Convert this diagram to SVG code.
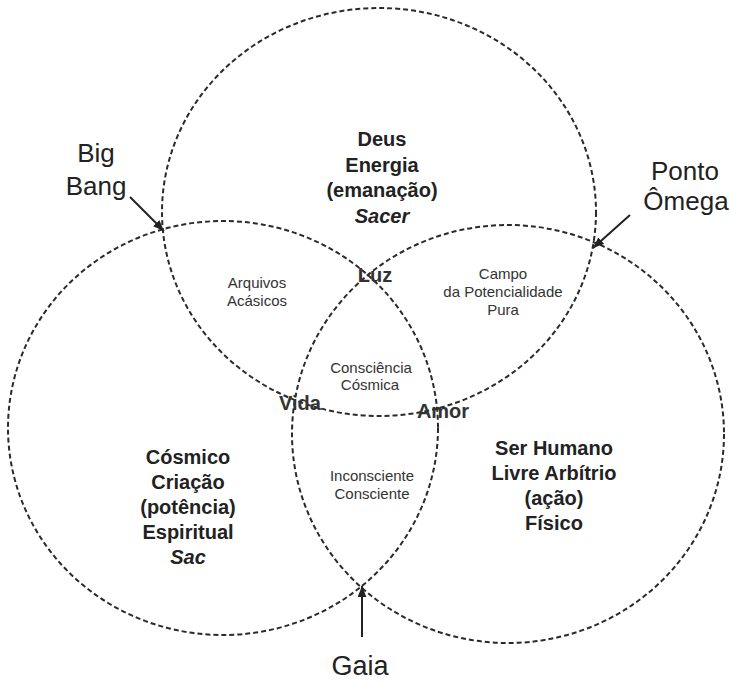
<svg xmlns="http://www.w3.org/2000/svg" width="730" height="683" viewBox="0 0 730 683">
<defs>
<style>
.ring{fill:none;stroke:#2a2a2a;stroke-width:2;stroke-dasharray:5 3}
.t{font-family:"Liberation Sans",Arial,sans-serif;text-anchor:middle;fill:#222}
.big{font-size:26px}
.main{font-size:20px;font-weight:bold}
.it{font-style:italic}
.small{font-size:15px;fill:#333}
.key{font-size:20px;font-weight:bold;fill:#333}
.arrow{stroke:#222;stroke-width:2;fill:none;marker-end:url(#ah)}
</style>
<marker id="ah" viewBox="0 0 10 8" refX="10" refY="4" markerWidth="11" markerHeight="9" markerUnits="userSpaceOnUse" orient="auto">
<path d="M0,0 L10,4 L0,8 z" fill="#222"/>
</marker>
</defs>
<rect width="730" height="683" fill="#fff"/>

<g id="circle-deus">
<ellipse class="ring" cx="379" cy="212" rx="217" ry="204"/>
<text class="t main" x="382" y="146">Deus</text>
<text class="t main" x="382" y="172">Energia</text>
<text class="t main" x="382" y="197">(emanação)</text>
<text class="t main it" x="382" y="223">Sacer</text>
</g>

<g id="circle-cosmico">
<ellipse class="ring" cx="223" cy="428" rx="215" ry="207"/>
<text class="t main" x="188" y="464">Cósmico</text>
<text class="t main" x="188" y="489">Criação</text>
<text class="t main" x="188" y="514">(potência)</text>
<text class="t main" x="188" y="539">Espiritual</text>
<text class="t main it" x="188" y="564">Sac</text>
</g>

<g id="circle-humano">
<ellipse class="ring" cx="508" cy="434" rx="216" ry="209"/>
<text class="t main" x="554" y="455">Ser Humano</text>
<text class="t main" x="554" y="480">Livre Arbítrio</text>
<text class="t main" x="554" y="505">(ação)</text>
<text class="t main" x="554" y="530">Físico</text>
</g>

<g id="arquivos">
<text class="t small" x="257" y="288">Arquivos</text>
<text class="t small" x="257" y="306">Acásicos</text>
</g>
<g id="campo">
<text class="t small" x="503" y="279">Campo</text>
<text class="t small" x="503" y="297">da Potencialidade</text>
<text class="t small" x="503" y="315">Pura</text>
</g>
<g id="consciencia">
<text class="t small" x="371" y="373">Consciência</text>
<text class="t small" x="370" y="390">Cósmica</text>
</g>
<g id="inconsciente">
<text class="t small" x="372" y="481">Inconsciente</text>
<text class="t small" x="372" y="499">Consciente</text>
</g>

<g id="luz"><text class="t key" x="375" y="282">Luz</text></g>
<g id="vida"><text class="t key" x="300" y="410">Vida</text></g>
<g id="amor"><text class="t key" x="443" y="418">Amor</text></g>

<g id="big-bang">
<text class="t big" x="96" y="162">Big</text>
<text class="t big" x="96" y="195">Bang</text>
</g>
<g id="ponto-omega">
<text class="t big" x="685" y="180">Ponto</text>
<text class="t big" x="686" y="210">Ômega</text>
</g>
<g id="gaia">
<text class="t big" x="360" y="675" style="font-size:27px">Gaia</text>
</g>

<g id="connectors">
<line class="arrow" x1="130" y1="197" x2="164" y2="231"/>
<line class="arrow" x1="630" y1="215" x2="593" y2="248"/>
<line class="arrow" x1="362" y1="637" x2="362" y2="586"/>
</g>
</svg>
